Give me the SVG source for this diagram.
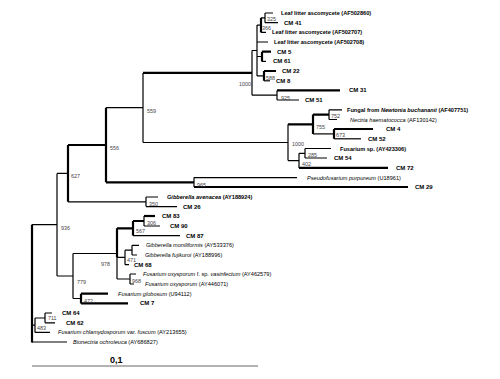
<svg xmlns="http://www.w3.org/2000/svg" width="500" height="379" viewBox="0 0 500 379">
<style>
.e{fill:none;stroke:#000;stroke-width:1.2}
.k{fill:none;stroke:#000;stroke-width:2.2}
text{font-family:"Liberation Sans",Arial,sans-serif;fill:#000}
.t{font-size:5.6px}
.b{font-size:5.6px;font-weight:bold}
.c{font-size:6px;font-weight:bold}
.s{font-size:5.4px;fill:#444}
.i{font-style:italic}
</style>
<rect width="500" height="379" fill="#fff"/>
<g id="connectors">
<path class="e" d="M32 224.7V342M32 224.7H57M32 325.2H35M32 342H67"/>
<path class="e" d="M57 173.4V276M57 173.4H68M57 276H73"/>
<path class="k" d="M68 145V201.8M68 145H106"/>
<path class="e" d="M68 201.8H146"/>
<path class="k" d="M106 107.7V182.3M106 182.3H194"/>
<path class="e" d="M106 107.7H143"/>
<path class="e" d="M143 72.9V142.5M143 142.5H288"/>
<path class="k" d="M143 72.9H252"/>
<path class="e" d="M252 50.5V95.2M252 50.5H257M252 95.2H277"/>
<path class="e" d="M257 25.1V75.9M257 25.1H261M257 42H268M257 56.5H262M257 75.9H264"/>
<path class="k" d="M261 17.9V32.4"/>
<path class="e" d="M261 17.9H265M261 32.4H266"/>
<path class="e" d="M265 13V22.7M265 13H273M265 22.7H278"/>
<path class="k" d="M262 51.7V61.4M262 51.7H271"/>
<path class="e" d="M262 61.4H266"/>
<path class="k" d="M264 71V80.8M264 71H276"/>
<path class="e" d="M264 80.8H270"/>
<path class="e" d="M277 90.4V100M277 100H299"/>
<path class="k" d="M277 90.4H340"/>
<path class="e" d="M288 124.3V160.6M288 160.6H299"/>
<path class="k" d="M288 124.3H313M313 114.6V133.9M313 114.6H329"/>
<path class="e" d="M313 133.9H334"/>
<path class="e" d="M329 109.8V119.5M329 109.8H342M329 119.5H337"/>
<path class="k" d="M334 129V138.8M334 129H373"/>
<path class="e" d="M334 138.8H361"/>
<path class="e" d="M299 153.3V167.9M299 153.3H305"/>
<path class="k" d="M299 167.9H388"/>
<path class="e" d="M305 148.5V158M305 148.5H331M305 158H327"/>
<path class="e" d="M194 177.6V187M194 177.6H297"/>
<path class="k" d="M194 187H408"/>
<path class="e" d="M146 197V206.6M146 197H158M146 206.6H177"/>
<path class="e" d="M73 253.5V298.5M73 253.5H117M73 298.5H81"/>
<path class="k" d="M117 228.3V257.4M117 228.3H133"/>
<path class="e" d="M117 257.4V279M117 257.4H125M117 279H130"/>
<path class="k" d="M133 221V235.6M133 221H144"/>
<path class="e" d="M133 235.6H180"/>
<path class="e" d="M144 216V226M144 226H160"/>
<path class="k" d="M144 216H155"/>
<path class="e" d="M125 250.2V264.7M125 250.2H132M125 264.7H129"/>
<path class="e" d="M132 245.3V255M132 245.3H139M132 255H137"/>
<path class="e" d="M130 274V284M130 274H136M130 284H134"/>
<path class="k" d="M81 293.7V303.4M81 293.7H108M81 303.4H128"/>
<path class="e" d="M35 318V332.4M35 318H45M35 332.4H50"/>
<path class="e" d="M45 313V322.8M45 313H52M45 322.8H55"/>
<path class="k" d="M32 224.7V342.5"/>
</g>
<g id="scale">
<path d="M32 366H258" stroke="#666" stroke-width="1"/>
<text x="110" y="363" style="font-size:9px;font-weight:bold">0,1</text>
</g>
<g id="tips">
<g id="t1"><text class="b" x="281" y="15">Leaf litter ascomycete (AF502860)</text></g>
<g id="t2"><text class="c" x="284" y="24.7">CM 41</text></g>
<g id="t3"><text class="b" x="272" y="34.4">Leaf litter ascomycete (AF502707)</text></g>
<g id="t4"><text class="b" x="274" y="44">Leaf litter ascomycete (AF502708)</text></g>
<g id="t5"><text class="c" x="277" y="53.7">CM 5</text></g>
<g id="t6"><text class="c" x="273" y="63.4">CM 61</text></g>
<g id="t7"><text class="c" x="282" y="73">CM 22</text></g>
<g id="t8"><text class="c" x="276" y="82.8">CM 8</text></g>
<g id="t9"><text class="c" x="349" y="92.4">CM 31</text></g>
<g id="t10"><text class="c" x="305" y="102">CM 51</text></g>
<g id="t11"><text class="b" x="347" y="111.8">Fungal from <tspan class="i">Newtonia buchananii</tspan> (AF407751)</text></g>
<g id="t12"><text class="t" x="350" y="121.5"><tspan class="i">Nectria haematococca</tspan> (AF130142)</text></g>
<g id="t13"><text class="c" x="386" y="131">CM 4</text></g>
<g id="t14"><text class="c" x="368" y="140.8">CM 52</text></g>
<g id="t15"><text class="b" x="340" y="150.5">Fusarium sp. (AY423306)</text></g>
<g id="t16"><text class="c" x="334" y="160">CM 54</text></g>
<g id="t17"><text class="c" x="396" y="169.9">CM 72</text></g>
<g id="t18"><text class="t" x="307" y="179.6"><tspan class="i">Pseudofusarium purpureum</tspan> (U18961)</text></g>
<g id="t19"><text class="c" x="415" y="189">CM 29</text></g>
<g id="t20"><text class="b" x="167" y="199"><tspan class="i">Gibberella avenacea</tspan> (AY188924)</text></g>
<g id="t21"><text class="c" x="183" y="208.6">CM 26</text></g>
<g id="t22"><text class="c" x="162" y="218">CM 83</text></g>
<g id="t23"><text class="c" x="170" y="228">CM 90</text></g>
<g id="t24"><text class="c" x="186" y="237.6">CM 87</text></g>
<g id="t25"><text class="t" x="146" y="247.3"><tspan class="i">Gibberella moniliformis</tspan> (AY533376)</text></g>
<g id="t26"><text class="t" x="145" y="257"><tspan class="i">Gibberella fujikuroi</tspan> (AY188996)</text></g>
<g id="t27"><text class="c" x="134" y="266.7">CM 68</text></g>
<g id="t28"><text class="t" x="143" y="276"><tspan class="i">Fusarium oxysporum</tspan> f. sp. <tspan class="i">vasinfectum</tspan> (AY462579)</text></g>
<g id="t29"><text class="t" x="145" y="286"><tspan class="i">Fusarium oxysporum</tspan> (AY446071)</text></g>
<g id="t30"><text class="t" x="118" y="295.7"><tspan class="i">Fusarium globosum</tspan> (U94112)</text></g>
<g id="t31"><text class="c" x="140" y="305.4">CM 7</text></g>
<g id="t32"><text class="c" x="62" y="315">CM 64</text></g>
<g id="t33"><text class="c" x="66" y="324.8">CM 62</text></g>
<g id="t34"><text class="t" x="58" y="334.4"><tspan class="i">Fusarium chlamydosporum</tspan> var. <tspan class="i">fuscum</tspan> (AY213655)</text></g>
<g id="t35"><text class="t" x="73" y="344"><tspan class="i">Bionectria ochroleuca</tspan> (AY686827)</text></g>
</g>
<g id="nodes">
<g id="n325"><text class="s" x="267" y="20.5">325</text></g>
<g id="n366"><text class="s" x="262" y="30">366</text></g>
<g id="n588"><text class="s" x="266" y="80">588</text></g>
<g id="n1000a"><text class="s" x="239" y="86">1000</text></g>
<g id="n925"><text class="s" x="281" y="99.5">925</text></g>
<g id="n559"><text class="s" x="147" y="112.5">559</text></g>
<g id="n752"><text class="s" x="331" y="118">752</text></g>
<g id="n755"><text class="s" x="316" y="128.5">755</text></g>
<g id="n673"><text class="s" x="336" y="137">673</text></g>
<g id="n1000b"><text class="s" x="292" y="146">1000</text></g>
<g id="n285"><text class="s" x="308" y="157">285</text></g>
<g id="n402"><text class="s" x="302" y="166">402</text></g>
<g id="n556"><text class="s" x="110" y="149.5">556</text></g>
<g id="n965"><text class="s" x="197" y="187">965</text></g>
<g id="n627"><text class="s" x="71" y="178">627</text></g>
<g id="n350"><text class="s" x="149" y="206">350</text></g>
<g id="n936"><text class="s" x="61" y="229.5">936</text></g>
<g id="n306"><text class="s" x="147" y="225">306</text></g>
<g id="n567"><text class="s" x="136" y="233">567</text></g>
<g id="n978"><text class="s" x="101" y="266">978</text></g>
<g id="n471"><text class="s" x="127" y="262">471</text></g>
<g id="n968"><text class="s" x="132" y="283">968</text></g>
<g id="n779"><text class="s" x="77" y="284">779</text></g>
<g id="n472"><text class="s" x="84" y="302.5">472</text></g>
<g id="n711"><text class="s" x="48" y="320">711</text></g>
<g id="n483"><text class="s" x="37" y="330">483</text></g>
</g>
</svg>
